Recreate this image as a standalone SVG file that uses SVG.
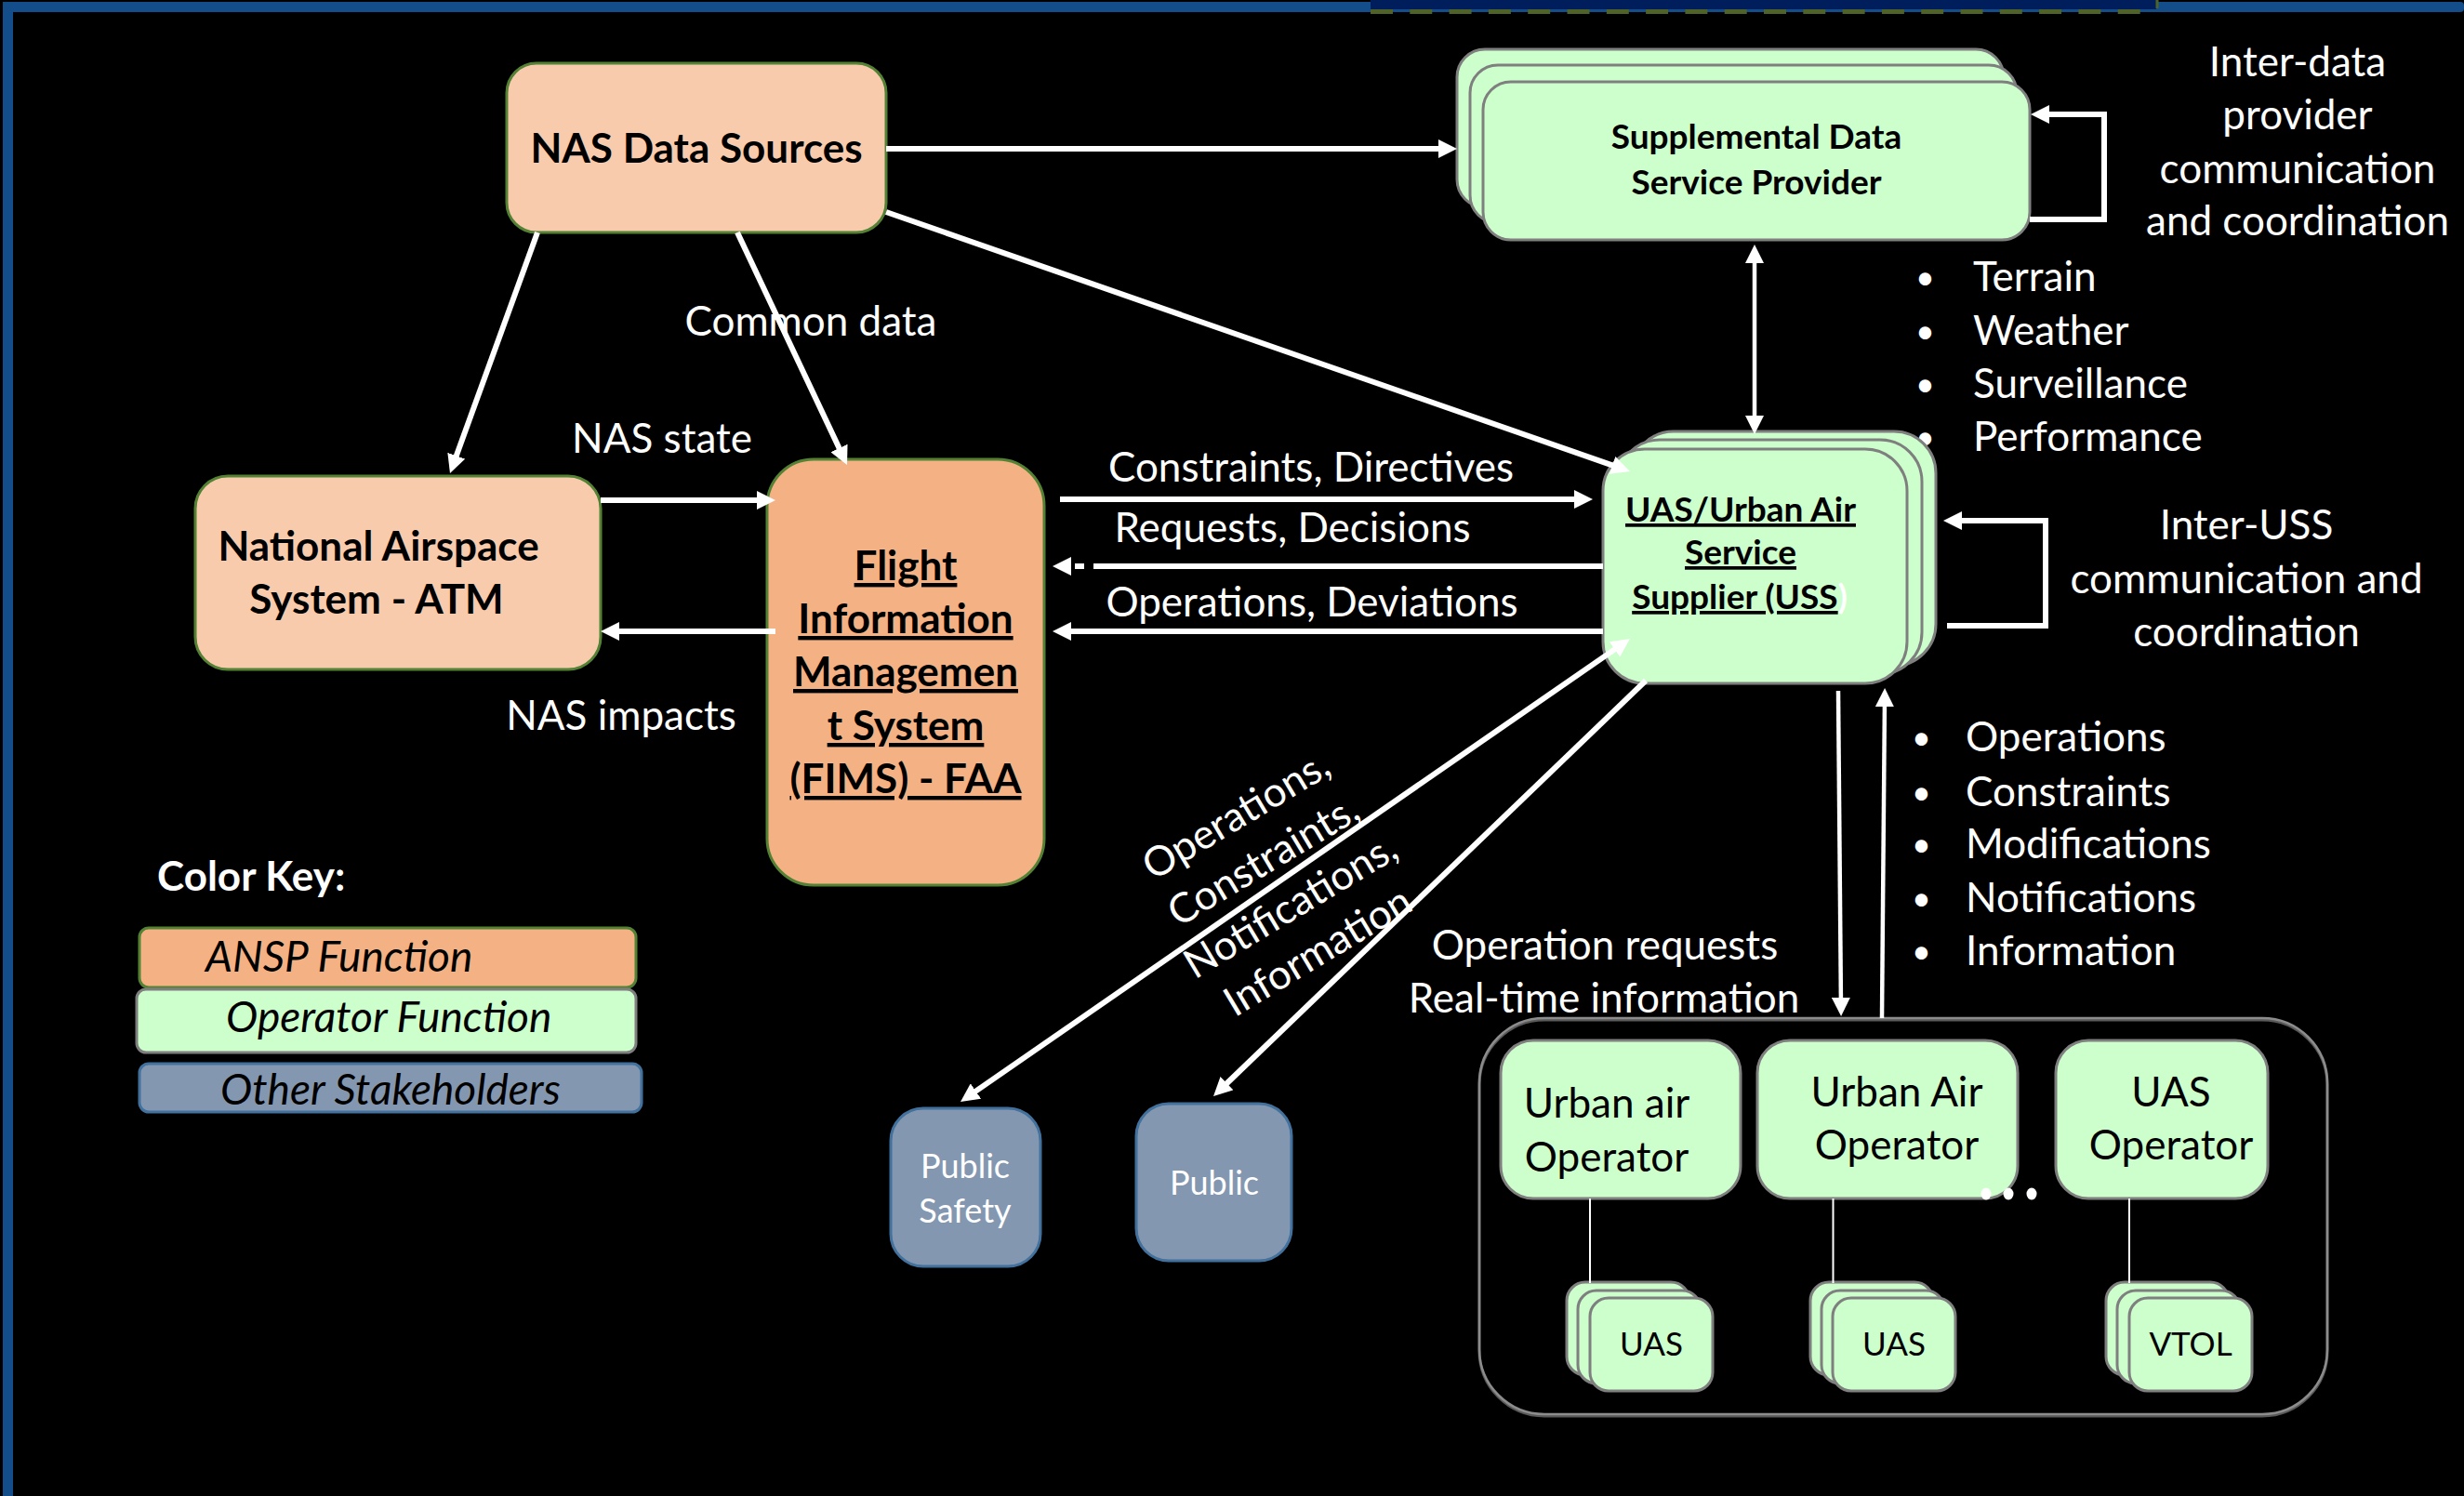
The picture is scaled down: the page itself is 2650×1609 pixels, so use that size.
<svg xmlns="http://www.w3.org/2000/svg" width="2650" height="1609" viewBox="0 0 2650 1609">
  <style>
    text { font-family: Lato, "Liberation Sans", sans-serif; }
    .bk { fill: #000; font-weight: 700; }
    .big { font-size: 44px; }
    .mid { font-size: 37px; }
    .ul { text-decoration: underline; }
    .wt { fill: #fff; font-size: 44px; }
    .bul { fill: #fff; font-size: 36px; }
    .reg { fill: #000; font-size: 44px; }
    .veh { fill: #000; font-size: 35px; }
    .pub { fill: #fff; font-size: 36px; }
    .key { fill: #000; font-size: 46px; font-style: italic; }
    .c { text-anchor: middle; }
    .peach { fill: #f8cbad; stroke: #548235; stroke-width: 3; }
    .ansp { fill: #f4b183; stroke: #548235; stroke-width: 3; }
    .op { fill: #ccffcc; stroke: #7f7f7f; stroke-width: 3; }
    .oth { fill: #8497b0; stroke: #41719c; stroke-width: 3; }
    .arr { fill: none; stroke: #fff; stroke-width: 6; }
    .arr-t { fill: none; stroke: #fff; stroke-width: 4.5; }
    .thin { fill: none; stroke: #fff; stroke-width: 2; }
  </style>
  <defs>
    <marker id="ah" viewBox="0 0 20 20" refX="12" refY="10" markerWidth="20" markerHeight="20" markerUnits="userSpaceOnUse" orient="auto-start-reverse">
      <path d="M0,0 L20,10 L0,20 z" fill="#fff"/>
    </marker>
  </defs>

  <!-- background and frame -->
  <rect x="0" y="0" width="2650" height="1609" fill="#000"/>
  <rect x="3" y="2" width="11" height="1607" fill="#134d8a"/>
  <rect x="3" y="2" width="2647" height="11" rx="4" fill="#134d8a"/>
  <rect x="1474" y="0" width="845" height="10" fill="#001e5c"/>
  <line x1="1474" y1="12.5" x2="2316" y2="12.5" stroke="#4f6228" stroke-width="5" stroke-dasharray="24 18.3"/>
  <line x1="2320" y1="0" x2="2320" y2="9" stroke="#4f6228" stroke-width="3"/>

  <!-- connector labels -->
  <g id="labels">
    <text class="wt c" x="872" y="361">Common data</text>
    <text class="wt c" x="712" y="487">NAS state</text>
    <text class="wt c" x="668" y="785">NAS impacts</text>
    <text class="wt c" x="1410" y="518">Constraints, Directives</text>
    <text class="wt c" x="1390" y="583">Requests, Decisions</text>
    <text class="wt c" x="1411" y="663">Operations, Deviations</text>
    <text class="wt c" x="2471" y="82">Inter-data</text>
    <text class="wt c" x="2471" y="139">provider</text>
    <text class="wt c" x="2471" y="197">communication</text>
    <text class="wt c" x="2471" y="253">and coordination</text>
    <text x="2060" y="311" class="bul">•</text><text x="2122" y="313" class="wt">Terrain</text>
    <text x="2060" y="369" class="bul">•</text><text x="2122" y="371" class="wt">Weather</text>
    <text x="2060" y="426" class="bul">•</text><text x="2122" y="428" class="wt">Surveillance</text>
    <text x="2060" y="483" class="bul">•</text><text x="2122" y="485" class="wt">Performance</text>
    <text class="wt c" x="2416" y="580">Inter-USS</text>
    <text class="wt c" x="2416" y="638">communication and</text>
    <text class="wt c" x="2416" y="695">coordination</text>
    <text x="2056" y="806" class="bul">•</text><text x="2114" y="808" class="wt">Operations</text>
    <text x="2056" y="865" class="bul">•</text><text x="2114" y="867" class="wt">Constraints</text>
    <text x="2056" y="921" class="bul">•</text><text x="2114" y="923" class="wt">Modifications</text>
    <text x="2056" y="979" class="bul">•</text><text x="2114" y="981" class="wt">Notifications</text>
    <text x="2056" y="1036" class="bul">•</text><text x="2114" y="1038" class="wt">Information</text>
    <text class="wt c" x="1726" y="1032">Operation requests</text>
    <text class="wt c" x="1725" y="1089">Real-time information</text>
    <g transform="translate(1375,953) rotate(-31)">
      <text class="wt c" x="0" y="-74">Operations,</text>
      <text class="wt c" x="0" y="-17">Constraints,</text>
      <text class="wt c" x="0" y="40">Notifications,</text>
      <text class="wt c" x="0" y="97">Information</text>
    </g>
  </g>

  <!-- ANSP / NAS nodes -->
  <g id="nas-data-sources">
    <rect class="peach" x="545" y="68" width="408" height="182" rx="32"/>
    <text class="bk big c" x="749" y="175">NAS Data Sources</text>
  </g>
  <g id="nas-atm">
    <rect class="peach" x="210" y="512" width="436" height="208" rx="35"/>
    <text class="bk big c" x="407" y="603">National Airspace</text>
    <text class="bk big c" x="405" y="660">System - ATM</text>
  </g>
  <g id="fims">
    <rect class="ansp" x="825" y="494" width="298" height="458" rx="50"/>
    <text class="bk big c ul" x="974" y="624">Flight</text>
    <text class="bk big c ul" x="974" y="681">Information</text>
    <text class="bk big c ul" x="974" y="738">Managemen</text>
    <text class="bk big c ul" x="974" y="796">t System</text>
    <text class="bk big c ul" x="974" y="853">(FIMS) - FAA</text>
  </g>

  <!-- operator-side nodes -->
  <g id="sdsp">
    <rect class="op" x="1567" y="53" width="588" height="170" rx="30"/>
    <rect class="op" x="1581" y="70" width="588" height="170" rx="30"/>
    <rect class="op" x="1595" y="88" width="588" height="170" rx="30"/>
    <text class="bk mid c" x="1889" y="160">Supplemental Data</text>
    <text class="bk mid c" x="1889" y="209">Service Provider</text>
  </g>
  <g id="uss">
    <rect class="op" x="1755" y="464" width="327" height="252" rx="45"/>
    <rect class="op" x="1740" y="473" width="327" height="252" rx="45"/>
    <rect class="op" x="1724" y="483" width="327" height="252" rx="45"/>
    <text class="bk mid c ul" x="1872" y="561">UAS/Urban Air</text>
    <text class="bk mid c ul" x="1872" y="607">Service</text>
    <text class="bk mid c" x="1871" y="655"><tspan class="ul">Supplier (USS</tspan><tspan fill="#fff">)</tspan></text>
  </g>

  <!-- operators and their vehicles -->
  <g id="operator-group">
    <rect x="1591" y="1097" width="912" height="426" rx="70" fill="none" stroke="#595959" stroke-width="3"/>
    <rect x="1591" y="1095" width="912" height="426" rx="70" fill="none" stroke="#8c8c8c" stroke-width="2.5"/>
  </g>
  <g id="op-urban-air-1">
    <rect class="op" x="1614" y="1119" width="258" height="170" rx="35"/>
    <text class="reg c" x="1728" y="1202">Urban air</text>
    <text class="reg c" x="1728" y="1260">Operator</text>
  </g>
  <g id="op-urban-air-2">
    <rect class="op" x="1890" y="1119" width="280" height="170" rx="35"/>
    <text class="reg c" x="2040" y="1190">Urban Air</text>
    <text class="reg c" x="2040" y="1247">Operator</text>
  </g>
  <g id="op-uas">
    <rect class="op" x="2211" y="1119" width="228" height="170" rx="35"/>
    <text class="reg c" x="2335" y="1190">UAS</text>
    <text class="reg c" x="2335" y="1247">Operator</text>
  </g>
  <g id="more-operators" fill="#fff">
    <ellipse cx="2136" cy="1284" rx="5.5" ry="6.5"/>
    <ellipse cx="2160" cy="1284" rx="5.5" ry="6.5"/>
    <ellipse cx="2185" cy="1284" rx="5.5" ry="6.5"/>
  </g>
  <g id="vehicles-uas-1">
    <rect class="op" x="1685" y="1379" width="132" height="100" rx="20"/>
    <rect class="op" x="1697" y="1388" width="132" height="100" rx="20"/>
    <rect class="op" x="1710" y="1396" width="132" height="100" rx="20"/>
    <text class="veh c" x="1776" y="1458">UAS</text>
  </g>
  <g id="vehicles-uas-2">
    <rect class="op" x="1947" y="1379" width="132" height="100" rx="20"/>
    <rect class="op" x="1959" y="1388" width="132" height="100" rx="20"/>
    <rect class="op" x="1971" y="1396" width="132" height="100" rx="20"/>
    <text class="veh c" x="2037" y="1458">UAS</text>
  </g>
  <g id="vehicles-vtol">
    <rect class="op" x="2265" y="1379" width="132" height="100" rx="20"/>
    <rect class="op" x="2277" y="1388" width="132" height="100" rx="20"/>
    <rect class="op" x="2290" y="1396" width="132" height="100" rx="20"/>
    <text class="veh c" x="2356" y="1458">VTOL</text>
  </g>

  <!-- other stakeholders -->
  <g id="public-safety">
    <rect class="oth" x="958" y="1192" width="161" height="170" rx="35"/>
    <text class="pub c" x="1038" y="1267">Public</text>
    <text class="pub c" x="1038" y="1315">Safety</text>
  </g>
  <g id="public">
    <rect class="oth" x="1222" y="1187" width="167" height="169" rx="35"/>
    <text class="pub c" x="1306" y="1285">Public</text>
  </g>

  <!-- connectors, drawn over the boxes so arrowheads that reach inside stay visible -->
  <g id="connectors">
    <path class="arr" d="M953,160 H1559" marker-end="url(#ah)"/>
    <path class="arr" d="M578,250 L486.7,501.5" marker-end="url(#ah)"/>
    <path class="arr" d="M793,250 L907.6,492.8" marker-end="url(#ah)"/>
    <path class="arr" d="M953,228 L1745.4,504.4" marker-end="url(#ah)"/>
    <path class="arr" d="M646,538 H826" marker-end="url(#ah)"/>
    <path class="arr" d="M834,679 H654" marker-end="url(#ah)"/>
    <path class="arr" d="M1140,537 H1705" marker-end="url(#ah)"/>
    <path class="arr" d="M1724,609 H1176"/>
    <path class="arr" d="M1166,609 H1156"/>
    <path class="arr" d="M1152,609 H1140" marker-end="url(#ah)"/>
    <path class="arr" d="M1724,679 H1140" marker-end="url(#ah)"/>
    <path class="arr-t" d="M1887,271 V459" marker-start="url(#ah)" marker-end="url(#ah)"/>
    <path class="arr" d="M2183,236 H2263 V123 H2192" marker-end="url(#ah)"/>
    <path class="arr" d="M2094,673 H2200 V560 H2098" marker-end="url(#ah)"/>
    <path class="arr-t" d="M1977,743 L1980,1085" marker-end="url(#ah)"/>
    <path class="arr-t" d="M2024,1095 L2027,748" marker-end="url(#ah)"/>
    <path class="arr" d="M1746.4,691.6 L1039.6,1180.4" marker-start="url(#ah)" marker-end="url(#ah)"/>
    <path class="arr" d="M1770,732 L1310.8,1173.5" marker-end="url(#ah)"/>
    <path class="thin" d="M1710,1289 V1380"/>
    <path class="thin" d="M1971.5,1289 V1380"/>
    <path class="thin" d="M2290,1289 V1380"/>
  </g>

  <!-- colour key -->
  <g id="color-key">
    <text x="169" y="958" fill="#fff" font-weight="700" font-size="44">Color Key:</text>
    <rect class="ansp" x="150" y="998" width="534" height="64" rx="10"/>
    <text class="key" x="221" y="1045">ANSP Function</text>
    <rect class="op" x="147" y="1064" width="537" height="68" rx="10"/>
    <text class="key" x="243" y="1110">Operator Function</text>
    <rect class="oth" x="150" y="1144" width="540" height="52" rx="10"/>
    <text class="key" x="237" y="1188">Other Stakeholders</text>
  </g>
</svg>
